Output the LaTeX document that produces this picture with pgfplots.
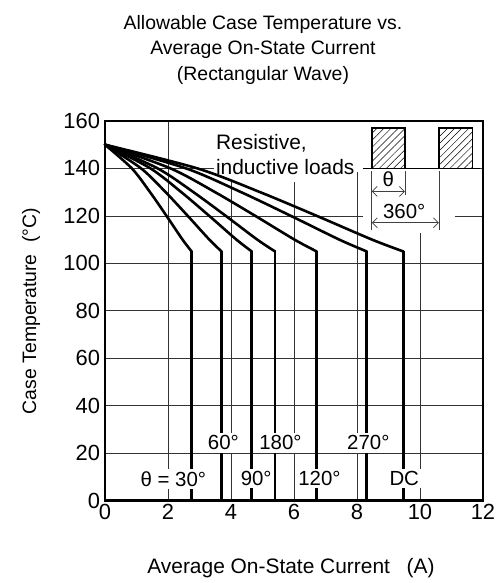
\documentclass[border=0pt]{standalone}
\usepackage{fontspec}
\setmainfont{Liberation Sans}
\usepackage{pgfplots}
\pgfplotsset{compat=1.18}
\usetikzlibrary{patterns.meta,arrows.meta}
\newcommand\lbl{\fontsize{20.5}{24}\selectfont}
\newcommand\tickf{\fontsize{22}{26}\selectfont}
\newcommand\notef{\fontsize{21}{25}\selectfont}
\newcommand\titf{\fontsize{19.5}{23}\selectfont}
\tikzset{
  curve/.style={black, line width=2.6bp, line cap=round, line join=round},
  lab/.style={fill=white, inner sep=2.5bp, font=\lbl},
}
\begin{document}
\begin{tikzpicture}
\useasboundingbox (-105bp,-82.5bp) rectangle (395bp,500.5bp);
\begin{axis}[
  at={(0,0)}, anchor=south west,
  width=378bp, height=379.5bp, scale only axis,
  xmin=0, xmax=12, ymin=0, ymax=160,
  xtick={0,2,...,12}, ytick={0,20,...,160},
  grid=major, major grid style={black!80, line width=0.7bp},
  axis line style={line width=2.2bp},
  tick style={draw=none},
  ticklabel style={font=\tickf},
  xticklabel style={yshift=-0.5bp},
  yticklabel style={xshift=-1.5bp},
  /pgf/number format/assume math mode=true,
  clip=false,
]
% white areas behind the notes
\fill[white] (axis cs:3.45,134.2) rectangle (axis cs:7.99,159.5);
\fill[white] (axis cs:7.99,138.5) rectangle (axis cs:8.2,159.5);
\fill[white] (axis cs:8.2,112.6) rectangle (axis cs:11.1,159.5);

% curves: theta = 30, 60, 90, 120, 180, 270, DC
\addplot[curve, smooth] coordinates {(0,150) (0.853,140) (1.43,130) (1.953,120) (2.461,110) (2.75,105)};
\addplot[curve] coordinates {(2.75,105) (2.75,0)};
\addplot[curve, smooth] coordinates {(0,150) (1.147,140) (1.924,130) (2.627,120) (3.312,110) (3.70,105)};
\addplot[curve] coordinates {(3.70,105) (3.70,0)};
\addplot[curve, smooth] coordinates {(0,150) (1.445,140) (2.423,130) (3.309,120) (4.171,110) (4.66,105)};
\addplot[curve] coordinates {(4.66,105) (4.66,0)};
\addplot[curve, smooth] coordinates {(0,150) (1.674,140) (2.808,130) (3.834,120) (4.833,110) (5.40,105)};
\addplot[curve] coordinates {(5.40,105) (5.40,0)};
\addplot[curve, smooth] coordinates {(0,150) (2.083,140) (3.494,130) (4.771,120) (6.014,110) (6.72,105)};
\addplot[curve] coordinates {(6.72,105) (6.72,0)};
\addplot[curve, smooth] coordinates {(0,150) (2.576,140) (4.321,130) (5.900,120) (7.437,110) (8.31,105)};
\addplot[curve] coordinates {(8.31,105) (8.31,0)};
\addplot[curve, smooth] coordinates {(0,150) (2.936,140) (4.924,130) (6.724,120) (8.476,110) (9.47,105)};
\addplot[curve] coordinates {(9.47,105) (9.47,0)};

% rectangular wave sketch
\draw[line width=1.5bp, pattern={Lines[angle=45,distance=5bp,line width=0.5bp]}]
  (axis cs:8.47,140) rectangle (axis cs:9.52,157);
\draw[line width=1.5bp, pattern={Lines[angle=45,distance=5bp,line width=0.5bp]}]
  (axis cs:10.60,140) rectangle (axis cs:11.66,157);
\draw[line width=1.4bp] (axis cs:8.19,140) -- (axis cs:11.9,140);
\draw[black!75, line width=0.7bp] (axis cs:8.47,138.9) -- (axis cs:8.47,113.9);
\draw[black!75, line width=0.7bp] (axis cs:9.52,138.9) -- (axis cs:9.52,128.6);
\draw[black!75, line width=0.7bp] (axis cs:10.60,138.9) -- (axis cs:10.60,113.9);
\draw[black!75, line width=0.7bp, {Straight Barb[length=5bp]}-{Straight Barb[length=5bp]}]
  (axis cs:8.47,130.3) -- (axis cs:9.52,130.3);
\draw[black!75, line width=0.7bp, {Straight Barb[length=5bp]}-{Straight Barb[length=5bp]}]
  (axis cs:8.47,117.1) -- (axis cs:10.60,117.1);
\node[font=\lbl] at (axis cs:8.99,135.3) {θ};
\node[font=\lbl] at (axis cs:9.50,122) {360°};
\node[font=\notef, anchor=base west, inner sep=0pt] at (axis cs:3.52,148) {Resistive,};
\node[font=\notef, anchor=base west, inner sep=0pt] at (axis cs:3.52,137.3) {inductive loads};

% curve labels
\node[lab] at (axis cs:2.17,9.1) {θ = 30°};
\node[lab] at (axis cs:3.76,24.3) {60°};
\node[lab] at (axis cs:4.80,9.3) {90°};
\node[lab] at (axis cs:5.57,24.3) {180°};
\node[lab] at (axis cs:6.81,9.3) {120°};
\node[lab] at (axis cs:8.36,24.3) {270°};
\node[lab] at (axis cs:9.50,9.3) {DC};
\end{axis}
\node[font=\titf, anchor=base] at (158bp,471bp) {Allowable Case Temperature vs.};
\node[font=\titf, anchor=base] at (158bp,445.5bp) {Average On-State Current};
\node[font=\titf, anchor=base] at (158bp,420bp) {(Rectangular Wave)};
\node[font=\titf, rotate=90] at (-74bp,189.5bp) {Case Temperature\hspace{0.6em}(°C)};
\node[font=\fontsize{21}{25}\selectfont, anchor=base] at (186bp,-72.5bp) {Average On-State Current\hspace{0.8em}(A)};
\end{tikzpicture}
\end{document}
